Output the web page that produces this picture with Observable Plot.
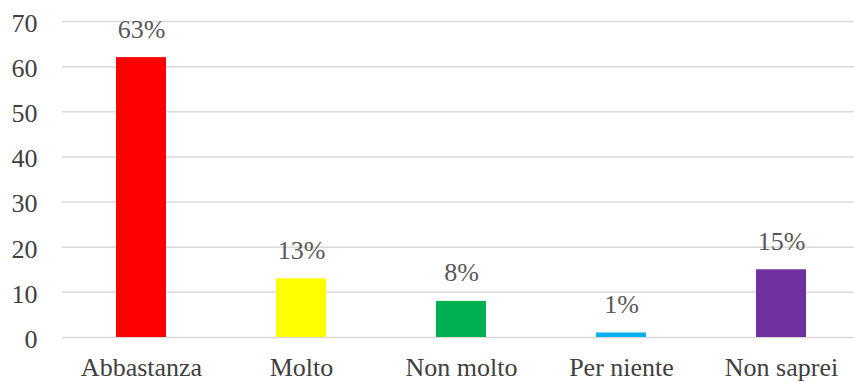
<!DOCTYPE html>
<html>
<head>
<meta charset="utf-8">
<script src="https://cdn.jsdelivr.net/npm/d3@7"></script>
<script src="https://cdn.jsdelivr.net/npm/@observablehq/plot@0.6"></script>
<style>
  html, body { margin: 0; padding: 0; background: #ffffff; }
  svg, svg text { font-family: "Liberation Serif", "DejaVu Serif", serif !important; }
</style>
</head>
<body>
<div id="chart"></div>
<script>
const categories = ["Abbastanza", "Molto", "Non molto", "Per niente", "Non saprei"];
const values = [62, 13, 8, 1, 15];
const labels = ["63%", "13%", "8%", "1%", "15%"];
const colors = ["#ff0000", "#ffff00", "#00b050", "#00b0f0", "#7030a0"];
const yTicks = [0, 10, 20, 30, 40, 50, 60, 70];

const data = categories.map((c, i) => ({category: c, value: values[i], label: labels[i]}));
const serif = "'Liberation Serif', 'DejaVu Serif', serif";

const chart = Plot.plot({
  width: 854,
  height: 382,
  marginTop: 21,
  marginBottom: 45,
  marginLeft: 62,
  marginRight: 0,
  style: {fontFamily: serif, fontSize: "26px", background: "#ffffff"},
  x: {domain: categories, range: [61, 861], paddingInner: 0.6875, paddingOuter: 0.34375, label: null},
  y: {domain: [0, 70], ticks: yTicks, label: null},
  color: {domain: categories, range: colors},
  marks: [
    Plot.ruleY(yTicks, {stroke: "#d9d9d9", strokeWidth: 1.5}),
    Plot.barY(data, {x: "category", y: "value", fill: "category"}),
    Plot.text(data, {x: "category", y: "value", text: "label", lineAnchor: "bottom", dy: -20, fill: "#595959", fontSize: 26, fontFamily: serif}),
    Plot.axisX({tickSize: 0, tickPadding: 20, fontSize: 26, fontFamily: serif, fill: "#404040", label: null}),
    Plot.axisY({ticks: yTicks, tickSize: 0, tickPadding: 25, fontSize: 26, fontFamily: serif, fill: "#404040", label: null, dy: 2})
  ]
});
document.getElementById("chart").appendChild(chart);
</script>
</body>
</html>
